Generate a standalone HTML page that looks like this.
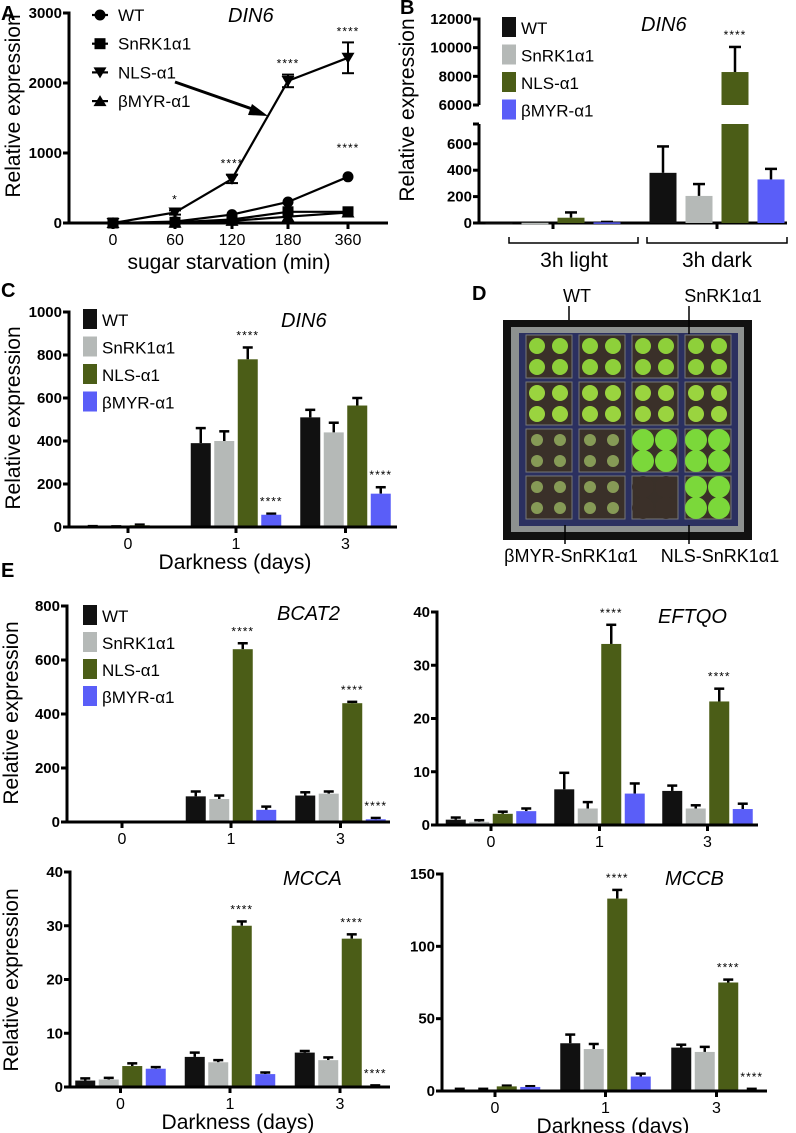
<!DOCTYPE html>
<html><head><meta charset="utf-8">
<style>
html,body{margin:0;padding:0;background:#fff;}
svg{display:block;font-family:"Liberation Sans",sans-serif;}
.tk{font-weight:bold;font-size:15px;text-anchor:end;}
.xt{font-size:16px;text-anchor:middle;}
.lg{font-size:17px;}
.tt{font-size:20px;font-style:italic;}
.yl{font-size:21px;text-anchor:middle;}
.dl{font-size:18px;text-anchor:middle;}
.pl{font-size:20px;font-weight:bold;}
.st{font-size:12px;text-anchor:middle;letter-spacing:1px;}
</style></head>
<body>
<svg id="fig" width="796" height="1133" viewBox="0 0 796 1133" xmlns="http://www.w3.org/2000/svg"></svg>
<script>
// ---------- DATA ----------
const seriesNames = ["WT","SnRK1α1","NLS-α1","βMYR-α1"];
const colors = ["#111111","#b5b9b7","#4b5d17","#5a5ef8"];
// Panel A
const aCats = ["0","60","120","180","360"];
const aWT = [0,20,120,300,660];
const aSn = [0,10,50,160,160];
const aNLS = [0,150,630,2030,2360];
const aNLSerr = [0,30,60,90,220];
const aMYR = [0,5,30,90,150];
const aTicks = [0,1000,2000,3000];
const aStars = ["","*","****","****","****"];
// Panel B
const bLightVals = [2,2,40,5];
const bLightErr = [0,0,40,3];
const bDarkVals = [380,205,8300,330];
const bDarkErr = [200,90,1750,80];
const bTicksLow = [0,200,400,600];
const bTicksHigh = [6000,8000,10000,12000];
// Panel C
const dayCats = ["0","1","3"];
const cVals = [[3,390,510],[2,400,440],[8,780,565],[0,57,155]];
const cErr = [[1,70,35],[1,45,45],[3,55,35],[0,5,30]];
const cTicks = [0,200,400,600,800,1000];
// BCAT2
const bcVals = [[2,95,98],[2,85,105],[2,640,440],[2,45,10]];
const bcErr = [[0,18,12],[0,13,8],[0,22,5],[0,12,5]];
const bcTicks = [0,200,400,600,800];
// EFTQO
const efVals = [[1,6.7,6.4],[0.6,3.1,3.1],[2.1,34,23.2],[2.6,5.9,3.0]];
const efErr = [[0.4,3.1,1.0],[0.3,1.2,0.6],[0.4,3.6,2.4],[0.5,1.9,1.0]];
const efTicks = [0,10,20,30,40];
// MCCA
const maVals = [[1.2,5.6,6.4],[1.4,4.6,5.0],[3.9,30,27.6],[3.4,2.4,0.2]];
const maErr = [[0.4,0.8,0.3],[0.3,0.4,0.5],[0.5,0.8,0.8],[0.3,0.3,0.1]];
const maTicks = [0,10,20,30,40];
// MCCB
const mbVals = [[1,33,30],[1,29,27],[3.2,133,75],[2.8,10,1]];
const mbErr = [[0.5,6,2],[0.5,3.5,3.5],[0.5,6,2],[0.5,2,0.5]];
const mbTicks = [0,50,100,150];

// ---------- HELPERS ----------
const NS="http://www.w3.org/2000/svg";
const svg=document.getElementById('fig');
function mk(tag,attrs,parent,text){
  const e=document.createElementNS(NS,tag);
  for(const k in attrs) e.setAttribute(k,attrs[k]);
  if(text!==undefined) e.textContent=text;
  (parent||svg).appendChild(e);
  return e;
}
function line(x1,y1,x2,y2,w,p){return mk('line',{x1,y1,x2,y2,stroke:'#000','stroke-width':w||3},p);}
function txt(x,y,s,cls,p,extra){const o=Object.assign({x,y,class:cls},extra||{});return mk('text',o,p,s);}
function ylabel(x,y,p){const t=txt(x,y,'Relative expression','yl',p,{transform:`rotate(-90 ${x} ${y})`});}
function legend(x,y0,dy,p){
  const g=mk('g',{},p);
  
  
  seriesNames.forEach((n,i)=>{
    const r=mk('rect',{x:x,y:y0+i*dy-10,width:14,height:20,fill:colors[i]},g);
    
    
    const t=txt(x+19,y0+i*dy+7,n,'lg',g);
    
    
  });
}
function barChart(o){
  const g=mk('g',{});
  
  
  const ymax=o.ticks[o.ticks.length-1];
  const Y=v=>o.y0-(v/ymax)*(o.y0-o.yTop);
  const bw=20, step=23.5;
  o.vals.forEach((sv,si)=>{
    sv.forEach((v,ci)=>{
      const cx=o.centers[ci]+(si-1.5)*step;
      const e=o.err[si][ci];
      if(e>0){
        line(cx,Y(v),cx,Y(v+e),2.5,g);
        line(cx-5,Y(v+e),cx+5,Y(v+e),2.5,g);
      }
      const r=mk('rect',{x:cx-bw/2,y:Y(v),width:bw,height:Math.max(o.y0-Y(v),1),fill:colors[si]},g);
      
      
      if(o.stars && o.stars[si] && o.stars[si][ci]){
        const s=txt(cx,Y(v+e)-8,'****','st',g);
        
        
      }
    });
  });
  line(o.ax,o.yTop-1.5,o.ax,o.y0+1.5,3,g);
  line(o.ax-1.5,o.y0,o.xEnd,o.y0,3,g);
  o.ticks.forEach(t=>{
    line(o.ax-6,Y(t),o.ax,Y(t),3,g);
    const l=txt(o.ax-7,Y(t)+5,String(t),'tk',g);
    
    
  });
  dayCats.forEach((c,ci)=>{
    line(o.centers[ci],o.y0,o.centers[ci],o.y0+6,3,g);
    const l=txt(o.centers[ci],o.y0+22,c,'xt',g);
    
    
  });
  const t=txt(o.titleX,o.titleY,o.title,'tt',g);
  
  
  if(o.xlabel){
    const xl=txt(o.xlabelX,o.y0+42,'Darkness (days)','yl',g);
    
    
  }
  return g;
}

// ---------- PANEL A ----------
(function(){
  const g=mk('g',{});
  
  
  const pl=txt(1,20,'A','pl',g);  
  const ax=69,y0=223,yTop=13,xs=[113,175,232,288,348];
  const Y=v=>y0-v/3000*(y0-yTop);
  line(ax,yTop-1.5,ax,y0+1.5,3,g); line(ax,y0,388,y0,3,g);
  aTicks.forEach(t=>{line(ax-6,Y(t),ax,Y(t),3,g);const l=txt(ax-7,Y(t)+5,String(t),'tk',g);});
  aCats.forEach((c,i)=>{line(xs[i],y0,xs[i],y0+6,3,g);const l=txt(xs[i],y0+22,c,'xt',g);});
  const xt=txt(229,269,'sugar starvation (min)','yl',g);  
  ylabel(20,106,g);
  const series=[aWT,aSn,aNLS,aMYR], marks=['circle','square','down','up'];
  function marker(type,x,y,p){
    let e;
    if(type==='circle') e=mk('circle',{cx:x,cy:y,r:5.5,fill:'#000'},p);
    else if(type==='square') e=mk('rect',{x:x-5.5,y:y-5.5,width:11,height:11,fill:'#000'},p);
    else if(type==='down') e=mk('polygon',{points:`${x-6.5},${y-5} ${x+6.5},${y-5} ${x},${y+6}`,fill:'#000'},p);
    else e=mk('polygon',{points:`${x-6.5},${y+5} ${x+6.5},${y+5} ${x},${y-6}`,fill:'#000'},p);
    return e;
  }
  aNLS.forEach((v,i)=>{const e=aNLSerr[i]; if(e>0){line(xs[i],Y(v-e),xs[i],Y(v+e),2,g);line(xs[i]-6,Y(v+e),xs[i]+6,Y(v+e),2,g);line(xs[i]-6,Y(v-e),xs[i]+6,Y(v-e),2,g);}});
  series.forEach((s,si)=>{
    const pts=s.map((v,i)=>xs[i]+','+Y(v)).join(' ');
    const pl2=mk('polyline',{points:pts,fill:'none',stroke:'#000','stroke-width':2.2},g);
    
    
    s.forEach((v,i)=>{const m=marker(marks[si],xs[i],Y(v),g);});
  });
  aStars.forEach((s,i)=>{ if(s){const t=txt(xs[i],Y(aNLS[i]+aNLSerr[i])-7,s,'st',g);}});
  const s2=txt(xs[4],Y(aWT[4])-25,'****','st',g);  
  const lg=mk('g',{},g);  
  seriesNames.forEach((n,i)=>{
    const y=15+i*28.7;
    line(92,y,108,y,2.2,lg); marker(marks[i],100,y,lg);
    const t=txt(118,y+6,n,'lg',lg);  
  });
  line(175,82,255,110,3,g);
  const ar=mk('polygon',{points:'268,116 252,104 248,115',fill:'#000'},g);
   
  const tt=txt(228,22,'DIN6','tt',g);  
})();

// ---------- PANEL B ----------
(function(){
  const g=mk('g',{});
  
  
  const pl=txt(400,14,'B','pl',g);  
  const ax=479,y0=223,lowTop=124,lowMax=750,hiBot=105,hiTop=19;
  const YL=v=>y0-v/lowMax*(y0-lowTop);
  const YH=v=>hiBot-(v-6000)/6000*(hiBot-hiTop);
  line(ax,lowTop,ax,y0+1.5,3,g); line(ax,hiTop-1.5,ax,hiBot,3,g); line(ax-1.5,y0,787,y0,3,g);
  line(ax-6,lowTop,ax+0,lowTop,3,g);
  bTicksLow.forEach(t=>{line(ax-6,YL(t),ax,YL(t),3,g);const l=txt(ax-7,YL(t)+5,String(t),'tk',g);});
  bTicksHigh.forEach(t=>{line(ax-6,YH(t),ax,YH(t),3,g);const l=txt(ax-7,YH(t)+5,String(t),'tk',g);});
  ylabel(414,110,g);
  const centers=[553,717], bw=27, step=36;
  [bLightVals,bDarkVals].forEach((vals,gi)=>{
    const errs=gi?bDarkErr:bLightErr;
    vals.forEach((v,si)=>{
      const cx=centers[gi]+(si-1.5)*step, e=errs[si];
      if(v<=lowMax){
        if(e>0){line(cx,YL(v),cx,YL(v+e),2.5,g);line(cx-6,YL(v+e),cx+6,YL(v+e),2.5,g);}
        const r=mk('rect',{x:cx-bw/2,y:YL(v),width:bw,height:Math.max(y0-YL(v),1.5),fill:colors[si]},g);
        
        
      } else {
        line(cx,YH(v),cx,YH(v+e),2.5,g);line(cx-6,YH(v+e),cx+6,YH(v+e),2.5,g);
        const r1=mk('rect',{x:cx-bw/2,y:lowTop,width:bw,height:y0-lowTop,fill:colors[si]},g);
        
        
        const r2=mk('rect',{x:cx-bw/2,y:YH(v),width:bw,height:hiBot-YH(v),fill:colors[si]},g);
        
        
        const s=txt(cx,YH(v+e)-8,'****','st',g);  
      }
    });
    line(centers[gi],y0,centers[gi],y0+6,3,g);
  });
  [[509,638,574,'3h light'],[647,787,717,'3h dark']].forEach(b=>{
    const p=mk('polyline',{points:`${b[0]},237 ${b[0]},243 ${b[1]},243 ${b[1]},237`,fill:'none',stroke:'#000','stroke-width':1.5},g);
     
    const t=txt(b[2],267,b[3],'yl',g);  
  });
  legend(502,27,27.5,g);
  const tt=txt(641,31,'DIN6','tt',g);  
})();

// ---------- PANEL C ----------
(function(){
  const pl=txt(1,297,'C','pl');  
  const g=barChart({name:'panel-c',vals:cVals,err:cErr,ticks:cTicks,ax:69,y0:527,yTop:312,xEnd:397,centers:[128,236,345.5],title:'DIN6',titleX:281,titleY:327,xlabel:true,xlabelX:235,
    stars:[[0,0,0],[0,0,0],[0,1,0],[0,1,1]]});
  ylabel(20,418,g);
  legend(83,319,27.5,g);
})();

// ---------- PANEL D (photo) ----------
(function(){
  const g=mk('g',{});
  
  
  const pl=txt(472,300,'D','pl',g);  
  mk('rect',{x:503,y:320,width:249,height:220,fill:'#111'},g);
  mk('rect',{x:511,y:327,width:233,height:205,fill:'#8d9190'},g);
  mk('rect',{x:519,y:333,width:219,height:193,fill:'#2b3060'},g);
  const greens=['#8ed03a','#8ed03a','#8ed03a','#8ed03a','#9ad43f','#9ad43f','#9ad43f','#9ad43f','#a6c86a','#a6c86a','#7bd83a','#7bd83a','#a6c86a','#a6c86a','#3b3029','#7bd83a'];
  for(let r=0;r<4;r++)for(let c=0;c<4;c++){
    const x=526+c*53,y=335+r*47;
    mk('rect',{x,y,width:46,height:43,fill:'#3a3029',stroke:'#777','stroke-width':1},g);
    const gc=greens[r*4+c];
    const big=(r>=2&&c>=2);
    for(let k=0;k<4;k++){
      const px=x+11+(k%2)*23,py=y+11+Math.floor(k/2)*21;
      mk('circle',{cx:px,cy:py,r:big?11:(r>=2?6:8),fill:gc,opacity:r>=2&&c<2?0.7:1},g);
    }
  }
  const labs=[[577,302,'WT',569,306,569,320],[723,302,'SnRK1α1',689,306,689,334],[571,562,'βMYR-SnRK1α1',565,525,565,544],[720,562,'NLS-SnRK1α1',689,525,689,544]];
  labs.forEach(l=>{
    const t=txt(l[0],l[1],l[2],'dl',g);  
    line(l[3],l[4],l[5],l[6],1.5,g);
  });
})();

// ---------- PANEL E ----------
(function(){
  const pl=txt(1,577,'E','pl');  
  const g1=barChart({name:'panel-e-bcat2',vals:bcVals,err:bcErr,ticks:bcTicks,ax:67,y0:822,yTop:606,xEnd:390,centers:[122,231,340.5],title:'BCAT2',titleX:277,titleY:620,
    stars:[[0,0,0],[0,0,0],[0,1,1],[0,0,1]]});
  ylabel(18,713,g1);
  legend(83,615,27,g1);
  barChart({name:'panel-e-eftqo',vals:efVals,err:efErr,ticks:efTicks,ax:437,y0:825,yTop:612,xEnd:758,centers:[491,599.5,707.5],title:'EFTQO',titleX:658,titleY:623,
    stars:[[0,0,0],[0,0,0],[0,1,1],[0,0,0]]});
  const g3=barChart({name:'panel-e-mcca',vals:maVals,err:maErr,ticks:maTicks,ax:70,y0:1087,yTop:872,xEnd:390,centers:[120.5,230,340],title:'MCCA',titleX:283,titleY:885,xlabel:true,xlabelX:238,
    stars:[[0,0,0],[0,0,0],[0,1,1],[0,0,1]]});
  ylabel(18,980,g3);
  barChart({name:'panel-e-mccb',vals:mbVals,err:mbErr,ticks:mbTicks,ax:442,y0:1091,yTop:874,xEnd:767,centers:[495,605.5,716.5],title:'MCCB',titleX:665,titleY:885,xlabel:true,xlabelX:613,
    stars:[[0,0,0],[0,0,0],[0,1,1],[0,0,1]]});
})();
</script>
</body></html>
